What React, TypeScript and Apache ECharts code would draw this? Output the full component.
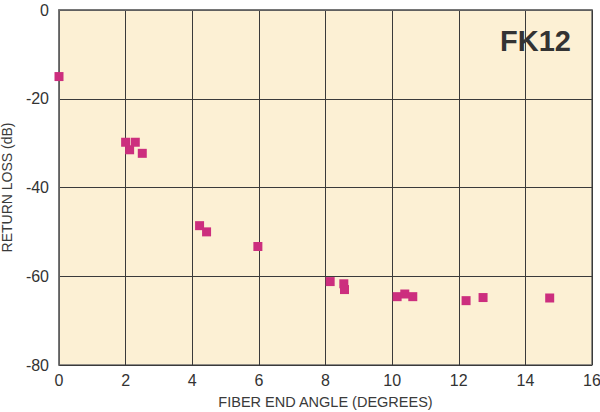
import React, { useEffect, useRef } from "react";
import * as echarts from "echarts";

const angles = [0.0, 2.0, 2.29, 2.12, 2.5, 4.22, 4.43, 5.97, 8.14, 8.55, 8.57, 10.15, 10.38, 10.62, 12.22, 12.73, 14.73];
const losses = [-15.0, -29.8, -29.8, -31.5, -32.3, -48.6, -50.0, -53.3, -61.2, -61.7, -63.0, -64.6, -64.0, -64.6, -65.5, -64.8, -64.9];
const titleText = "FK12";
const xName = "FIBER END ANGLE (DEGREES)";
const yName = "RETURN LOSS (dB)";

export default function App() {
  const ref = useRef<HTMLDivElement>(null);
  useEffect(() => {
    if (!ref.current) return;
    const chart = echarts.init(ref.current, null, { renderer: "svg" });
    const font = "'Liberation Sans', Arial, Helvetica, sans-serif";
    chart.setOption({
      animation: false,
      backgroundColor: "#ffffff",
      textStyle: { fontFamily: font },
      grid: {
        left: 59,
        top: 10,
        width: 533,
        height: 355,
        show: true,
        backgroundColor: "#fcf0d4",
        borderColor: "#6e6e6e",
        borderWidth: 1.5,
        containLabel: false,
        outerBoundsMode: "none",
      },
      xAxis: {
        type: "value",
        min: 0,
        max: 16,
        interval: 2,
        name: xName,
        nameLocation: "middle",
        nameGap: 29,
        nameTextStyle: { fontSize: 14.5, color: "#3a3a3a", fontFamily: font },
        axisLine: { show: true, lineStyle: { color: "#6e6e6e", width: 1.5 } },
        axisTick: { show: false },
        axisLabel: { fontSize: 16, color: "#333", margin: 7, fontFamily: font },
        splitLine: { show: true, lineStyle: { color: "#3a3a3a", width: 1 } },
      },
      yAxis: {
        type: "value",
        min: -80,
        max: 0,
        interval: 20,
        name: yName,
        nameLocation: "middle",
        nameGap: 45,
        nameRotate: 90,
        nameTextStyle: { fontSize: 14, color: "#3a3a3a", fontFamily: font },
        axisLine: { show: true, lineStyle: { color: "#6e6e6e", width: 1.5 } },
        axisTick: { show: false },
        axisLabel: { fontSize: 16, color: "#333", margin: 10, fontFamily: font },
        splitLine: { show: true, lineStyle: { color: "#3a3a3a", width: 1 } },
      },
      graphic: [
        {
          type: "text",
          left: 500,
          top: 26,
          style: {
            text: titleText,
            font: `bold 29px ${font}`,
            fill: "#333333",
          },
        },
      ],
      series: [
        {
          type: "scatter",
          symbol: "rect",
          symbolSize: 9,
          itemStyle: { color: "#cc2e7e", opacity: 1 },
          data: angles.map((a, i) => [a, losses[i]]),
        },
      ],
    });
    return () => chart.dispose();
  }, []);
  return (
    <div
      ref={ref}
      style={{ position: "fixed", left: 0, top: 0, width: 600, height: 412 }}
    />
  );
}
